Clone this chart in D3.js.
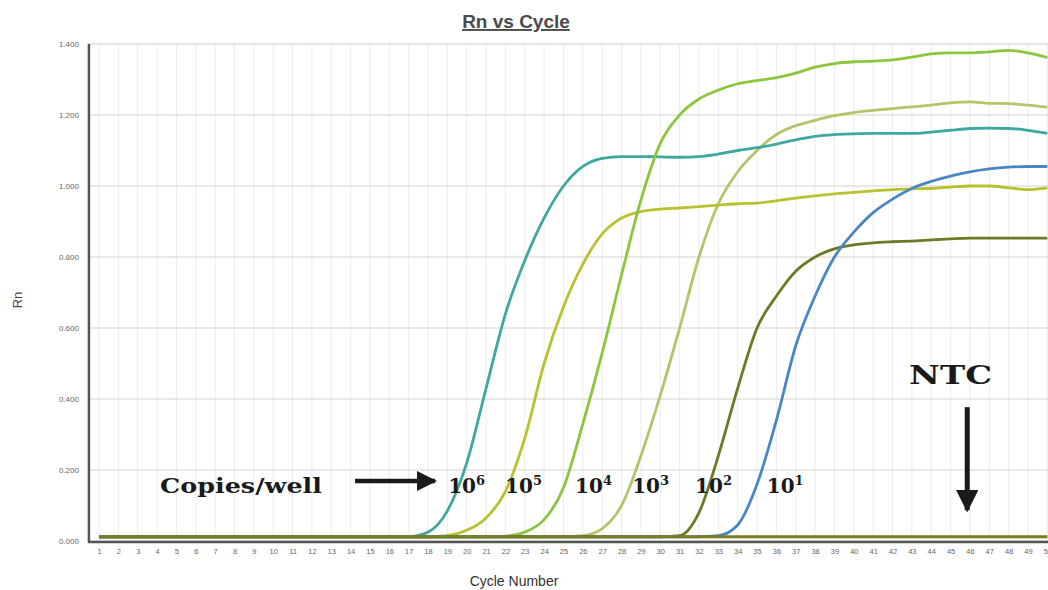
<!DOCTYPE html>
<html>
<head>
<meta charset="utf-8">
<script src="https://cdn.jsdelivr.net/npm/d3@7"></script>
<style>
  body { margin: 0; background: #fff; }
  svg { display: block; }
</style>
</head>
<body>
<script>
// cycles 1..50
const cycles = d3.range(1, 51);

// Rn values per cycle, one array per dilution
const base = 0.012;
const rn1e6 = [].concat(d3.range(17).map(() => base), [
  0.025, 0.085, 0.22, 0.43, 0.64, 0.79, 0.91, 1.0, 1.055, 1.078,
  1.083, 1.083, 1.082, 1.081, 1.083, 1.09, 1.10, 1.108, 1.118, 1.13,
  1.14, 1.145, 1.147, 1.148, 1.148, 1.148, 1.152, 1.157, 1.162, 1.163,
  1.162, 1.157, 1.148]);
const rn1e5 = [].concat(d3.range(18).map(() => base), [
  0.015, 0.03, 0.065, 0.14, 0.29, 0.50, 0.66, 0.78, 0.865, 0.91,
  0.928, 0.935, 0.938, 0.942, 0.946, 0.95, 0.952, 0.958, 0.966, 0.972,
  0.978, 0.982, 0.986, 0.99, 0.992, 0.993, 0.997, 1.0, 1.0, 0.995,
  0.99, 0.995]);
const rn1e4 = [].concat(d3.range(21).map(() => base), [
  0.014, 0.025, 0.06, 0.15, 0.33, 0.53, 0.75, 0.96, 1.12, 1.20,
  1.245, 1.27, 1.288, 1.297, 1.305, 1.318, 1.335, 1.345, 1.35, 1.352,
  1.355, 1.363, 1.372, 1.375, 1.375, 1.378, 1.382, 1.375, 1.362]);
const rn1e3 = [].concat(d3.range(25).map(() => base), [
  0.015, 0.035, 0.10, 0.24, 0.41, 0.60, 0.80, 0.95, 1.04, 1.10,
  1.145, 1.17, 1.185, 1.198, 1.207, 1.213, 1.218, 1.223, 1.228, 1.234,
  1.237, 1.233, 1.232, 1.228, 1.222]);
const rn1e2 = [].concat(d3.range(30).map(() => base), [
  0.015, 0.08, 0.24, 0.43, 0.60, 0.69, 0.76, 0.80, 0.823, 0.834,
  0.84, 0.843, 0.845, 0.848, 0.851, 0.853, 0.853, 0.853, 0.853, 0.853]);
const rn1e1 = [].concat(d3.range(32).map(() => base), [
  0.015, 0.045, 0.16, 0.34, 0.55, 0.69, 0.80, 0.87, 0.925, 0.963,
  0.993, 1.013, 1.028, 1.04, 1.048, 1.053, 1.055, 1.055]);
const rnNtc = cycles.map(() => base);

const seriesNames = ["1e3", "1e5", "1e6", "1e4", "1e2", "1e1", "NTC"];
const seriesValues = [rn1e3, rn1e5, rn1e6, rn1e4, rn1e2, rn1e1, rnNtc];
const seriesColors = ["#b3c46a", "#b9c12e", "#3ea89e", "#8cc63c", "#6c7a26", "#4a86c6", "#7b7b1f"];

const yTicks = [0, 0.2, 0.4, 0.6, 0.8, 1.0, 1.2, 1.4];

// annotation labels: text and anchor in data units (cycle, Rn)
const copyLabels = ["6", "5", "4", "3", "2", "1"];
const copyLabelCycles = [19.04, 21.98, 25.6, 28.55, 31.8, 35.5];
const labelRn = 0.135;

const W = 1048, H = 590;
const svg = d3.select("body").append("svg")
  .attr("width", W)
  .attr("height", H);

const xScale = d3.scaleLinear([1, 49], [99, 1028]);
const yScale = d3.scaleLinear([0, 1.4], [541, 44]);
const xLeft = xScale(0.48);

// grid
svg.append("g")
  .selectAll("line")
  .data(cycles)
  .join("line")
  .attr("x1", d => xScale(d)).attr("x2", d => xScale(d))
  .attr("y1", yScale(1.4)).attr("y2", yScale(0))
  .attr("stroke", "#ececec")
  .attr("stroke-width", 1);

svg.append("g")
  .selectAll("line")
  .data(yTicks)
  .join("line")
  .attr("x1", xLeft).attr("x2", W)
  .attr("y1", d => yScale(d)).attr("y2", d => yScale(d))
  .attr("stroke", "#d9cfcf")
  .attr("stroke-width", 1.2);

// y axis labels
const yAxis = d3.axisLeft(yScale)
  .tickValues(yTicks)
  .tickFormat(d3.format(".3f"))
  .tickSize(0)
  .tickPadding(10);
const gy = svg.append("g")
  .attr("transform", `translate(${xLeft},0)`)
  .call(yAxis);
gy.select(".domain").remove();
gy.selectAll("text")
  .style("font-family", "Liberation Sans, Arial, sans-serif")
  .style("font-size", "8px")
  .attr("fill", "#666");

// x axis labels
const xAxis = d3.axisBottom(xScale)
  .tickValues(cycles)
  .tickFormat(d3.format("d"))
  .tickSize(0)
  .tickPadding(8);
const gx = svg.append("g")
  .attr("transform", `translate(0,${yScale(0)})`)
  .call(xAxis);
gx.select(".domain").remove();
gx.selectAll("text")
  .style("font-family", "Liberation Sans, Arial, sans-serif")
  .style("font-size", "7.5px")
  .attr("fill", "#666");

// curves
const line = d3.line()
  .x((d, i) => xScale(cycles[i]))
  .y(d => yScale(d))
  .curve(d3.curveMonotoneX);

svg.append("g")
  .selectAll("path")
  .data(seriesValues)
  .join("path")
  .attr("fill", "none")
  .attr("stroke", (d, i) => seriesColors[i])
  .attr("stroke-width", 2.8)
  .attr("stroke-linejoin", "round")
  .attr("d", line);

// axis lines
svg.append("line")
  .attr("x1", xLeft).attr("x2", xLeft)
  .attr("y1", yScale(1.4)).attr("y2", yScale(0) + 1)
  .attr("stroke", "#555").attr("stroke-width", 2.5);
svg.append("line")
  .attr("x1", xLeft - 1).attr("x2", W)
  .attr("y1", yScale(0) + 1).attr("y2", yScale(0) + 1)
  .attr("stroke", "#555").attr("stroke-width", 2.5);

// titles
svg.append("text")
  .attr("x", 516).attr("y", 28)
  .attr("text-anchor", "middle")
  .style("font-family", "Liberation Sans, Arial, sans-serif")
  .style("font-size", "19px")
  .style("font-weight", "bold")
  .style("text-decoration", "underline")
  .attr("fill", "#4a4a4a")
  .text("Rn vs Cycle");

svg.append("text")
  .attr("transform", "translate(22,300) rotate(-90)")
  .attr("text-anchor", "middle")
  .style("font-family", "Liberation Sans, Arial, sans-serif")
  .style("font-size", "13px")
  .attr("fill", "#444")
  .text("Rn");

svg.append("text")
  .attr("x", 514).attr("y", 586)
  .attr("text-anchor", "middle")
  .style("font-family", "Liberation Sans, Arial, sans-serif")
  .style("font-size", "14px")
  .attr("fill", "#333")
  .text("Cycle Number");

// annotations
const serif = "DejaVu Serif, Liberation Serif, serif";
svg.append("text")
  .attr("x", xScale(4.15)).attr("y", yScale(labelRn))
  .attr("textLength", 162)
  .attr("lengthAdjust", "spacingAndGlyphs")
  .style("font-family", serif)
  .style("font-size", "20px")
  .style("font-weight", "bold")
  .attr("fill", "#1a1a1a")
  .text("Copies/well");

svg.append("defs").append("marker")
  .attr("id", "head")
  .attr("viewBox", "0 0 10 10")
  .attr("refX", 9).attr("refY", 5)
  .attr("markerWidth", 4.5).attr("markerHeight", 4.5)
  .attr("orient", "auto")
  .append("path")
  .attr("d", "M0,0 L10,5 L0,10 z")
  .attr("fill", "#1a1a1a");

svg.append("line")
  .attr("x1", xScale(14.23)).attr("x2", xScale(18.36))
  .attr("y1", yScale(0.169)).attr("y2", yScale(0.169))
  .attr("stroke", "#1a1a1a").attr("stroke-width", 4.5)
  .attr("marker-end", "url(#head)");

const powers = svg.append("g")
  .selectAll("text")
  .data(copyLabels)
  .join("text")
  .attr("x", (d, i) => xScale(copyLabelCycles[i]))
  .attr("y", yScale(labelRn))
  .style("font-family", serif)
  .style("font-size", "20px")
  .style("font-weight", "bold")
  .attr("fill", "#1a1a1a");
powers.append("tspan").text("10");
powers.append("tspan")
  .attr("dy", -8)
  .style("font-size", "13px")
  .text(d => d);

svg.append("text")
  .attr("x", xScale(45.0)).attr("y", yScale(0.442))
  .attr("text-anchor", "middle")
  .attr("textLength", 83)
  .attr("lengthAdjust", "spacingAndGlyphs")
  .style("font-family", serif)
  .style("font-size", "26px")
  .style("font-weight", "bold")
  .attr("fill", "#1a1a1a")
  .text("NTC");

svg.append("line")
  .attr("x1", xScale(45.86)).attr("x2", xScale(45.86))
  .attr("y1", yScale(0.377)).attr("y2", yScale(0.087))
  .attr("stroke", "#1a1a1a").attr("stroke-width", 5)
  .attr("marker-end", "url(#head)");
</script>
</body>
</html>
